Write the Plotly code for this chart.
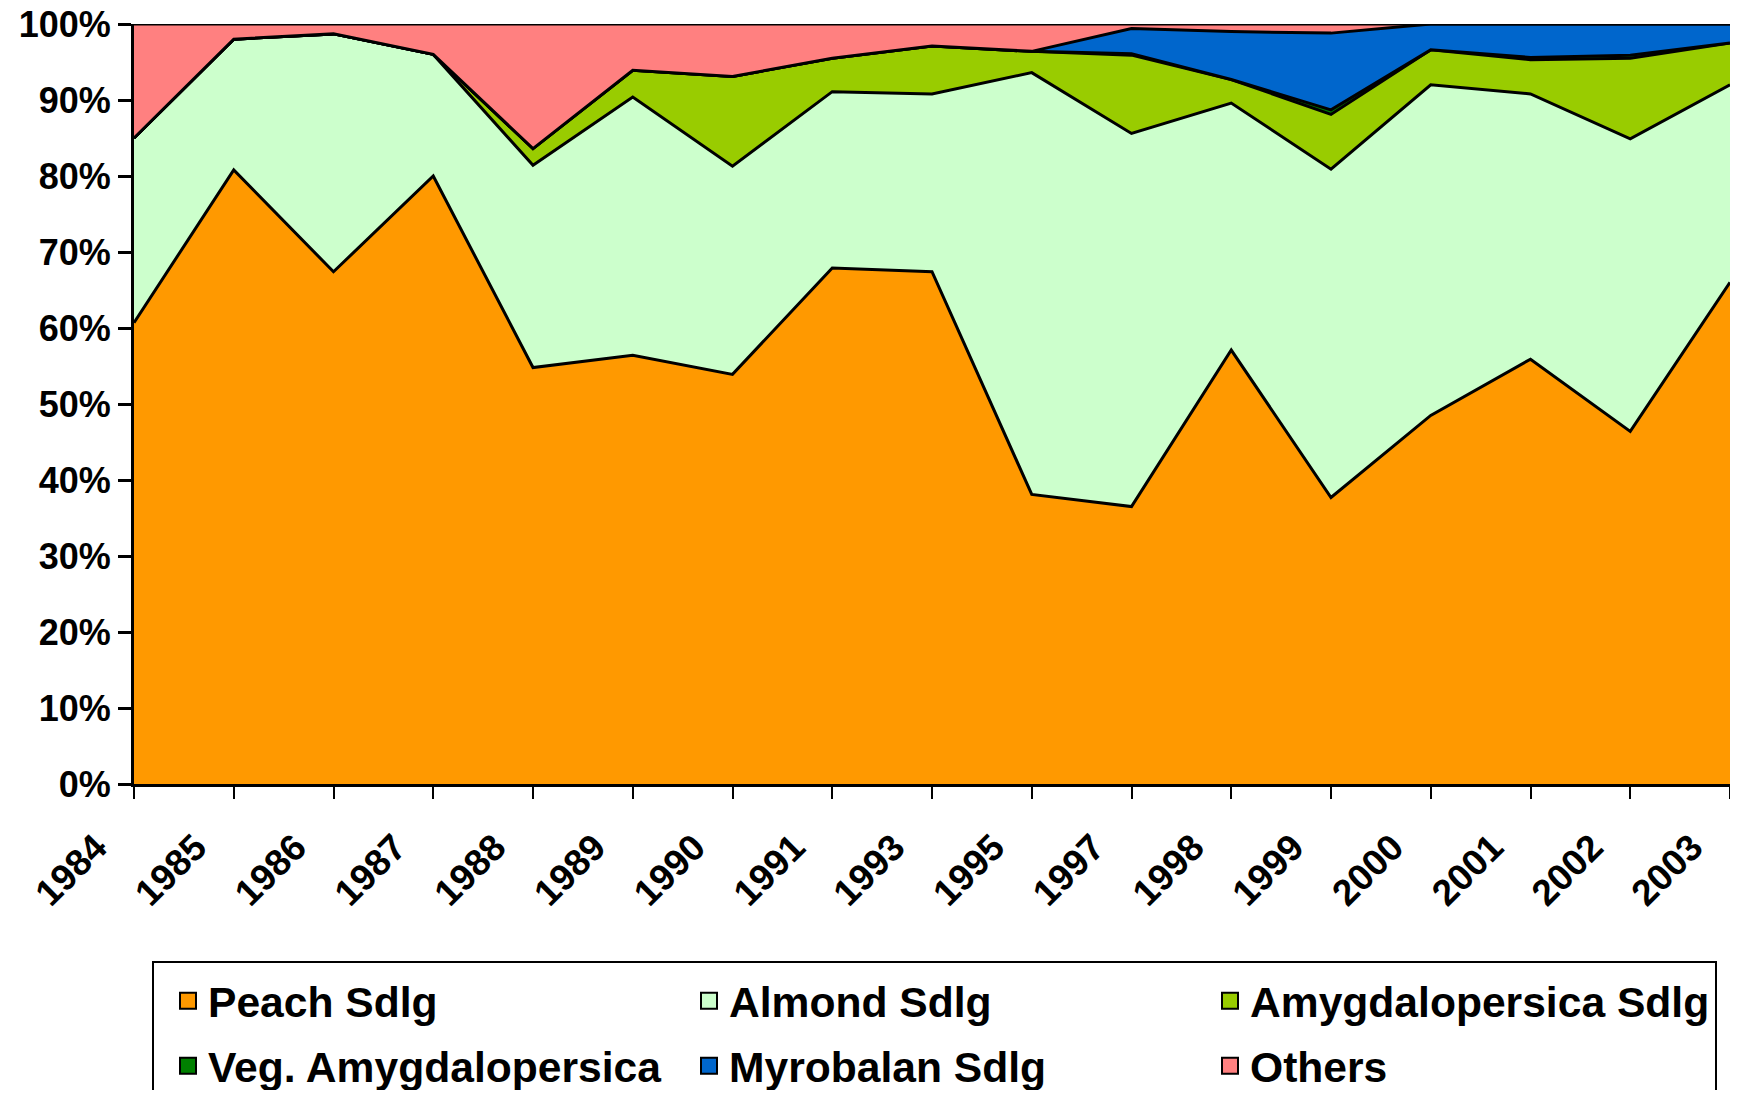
import plotly.graph_objects as go

years = ["1984", "1985", "1986", "1987", "1988", "1989", "1990", "1991", "1993",
         "1995", "1997", "1998", "1999", "2000", "2001", "2002", "2003"]
peach = [60.7, 80.8, 67.4, 80.0, 54.8, 56.4, 53.9, 67.9, 67.4, 38.1, 36.5, 57.1, 37.7, 48.5, 55.9, 46.4, 66.0]
almond = [24.3, 17.2, 31.3, 16.0, 26.6, 34.0, 27.4, 23.2, 23.4, 55.5, 49.1, 32.5, 43.2, 43.5, 34.9, 38.5, 26.0]
amygdalo = [0, 0, 0, 0, 2.2, 3.5, 11.8, 4.4, 6.3, 2.8, 10.3, 3.1, 7.2, 4.6, 4.5, 10.6, 5.5]
veg_amygdalo = [0, 0, 0, 0, 0, 0, 0, 0, 0, 0, 0.2, 0, 0.6, 0, 0.3, 0.4, 0]
myrobalan = [0, 0, 0, 0, 0, 0, 0, 0, 0, 0, 3.3, 6.3, 10.1, 3.4, 4.4, 4.1, 2.5]
others = [15.0, 2.0, 1.3, 4.0, 16.4, 6.1, 6.9, 4.5, 2.9, 3.6, 0.6, 1.0, 1.2, 0, 0, 0, 0]
y_ticks = [0, 10, 20, 30, 40, 50, 60, 70, 80, 90, 100]

series = [
    ("Peach Sdlg", peach, "#FF9900", "legend"),
    ("Almond Sdlg", almond, "#CCFFCC", "legend"),
    ("Amygdalopersica Sdlg", amygdalo, "#99CC00", "legend"),
    ("Veg. Amygdalopersica", veg_amygdalo, "#008000", "legend2"),
    ("Myrobalan Sdlg", myrobalan, "#0066CC", "legend2"),
    ("Others", others, "#FF8080", "legend2"),
]

FONT = "Liberation Sans, Arial, sans-serif"

fig = go.Figure()
for name, vals, col, lg in series:
    fig.add_trace(go.Scatter(
        x=years, y=vals, name=name, mode="lines",
        stackgroup="one", groupnorm="percent",
        line=dict(color="black", width=3),
        fillcolor=col, showlegend=False, legendgroup=name,
    ))
# legend entries (square swatches)
for name, vals, col, lg in series:
    fig.add_trace(go.Scatter(
        x=[None], y=[None], name=name, mode="markers",
        marker=dict(symbol="square", size=16, color=col,
                    line=dict(color="black", width=2)),
        legend=lg, legendgroup=name, hoverinfo="skip",
    ))

# page offset of the plot div inside the browser window (body margin)
OFF = 8
W, H = 1738 - 2 * OFF, 1098 - 2 * OFF
ml, mt = 134 - OFF, 24 - OFF
mr = 0
mb = H - (784 - OFF)
pw, ph = W - ml - mr, H - mt - mb


def px(x_page):
    return (x_page - OFF - ml) / pw


def py(y_page):
    return (H - mb - (y_page - OFF)) / ph


legend_common = dict(
    orientation="h", xanchor="left", yanchor="middle",
    font=dict(family=FONT, size=42.6, color="black", weight="bold"),
    bgcolor="rgba(0,0,0,0)", borderwidth=0,
    entrywidth=476, entrywidthmode="pixels", traceorder="normal",
    itemclick=False, itemdoubleclick=False,
)

fig.update_layout(
    width=W, height=H,
    margin=dict(l=ml, r=mr, t=mt, b=mb, autoexpand=False),
    paper_bgcolor="white", plot_bgcolor="white",
    font=dict(family=FONT, color="black"),
    showlegend=True,
    legend=dict(x=px(168), y=py(1001), **legend_common),
    legend2=dict(x=px(168), y=py(1066), **legend_common),
    xaxis=dict(
        type="category", range=[0, len(years) - 1],
        showgrid=False, zeroline=False,
        showline=True, linecolor="black", linewidth=2.5,
        ticks="outside", ticklen=12, tickwidth=2, tickcolor="black",
        tickangle=-45, ticklabelstandoff=12, ticklabelshift=-38,
        tickfont=dict(family=FONT, size=37, color="black", weight="bold"),
    ),
    yaxis=dict(
        range=[0, 100], tickmode="array", tickvals=y_ticks,
        ticktext=[f"{v}%" for v in y_ticks], ticklabeloverflow="allow",
        showgrid=False, zeroline=False,
        showline=True, linecolor="black", linewidth=3,
        ticks="outside", ticklen=13, tickwidth=2.5, tickcolor="black",
        tickfont=dict(family=FONT, size=36, color="black", weight="bold"),
    ),
    shapes=[dict(
        type="rect", xref="paper", yref="paper",
        x0=px(153), x1=px(1716), y0=py(1120), y1=py(962),
        line=dict(color="black", width=2), fillcolor="rgba(0,0,0,0)",
        layer="above",
    )],
)

fig.write_html("out.html")
